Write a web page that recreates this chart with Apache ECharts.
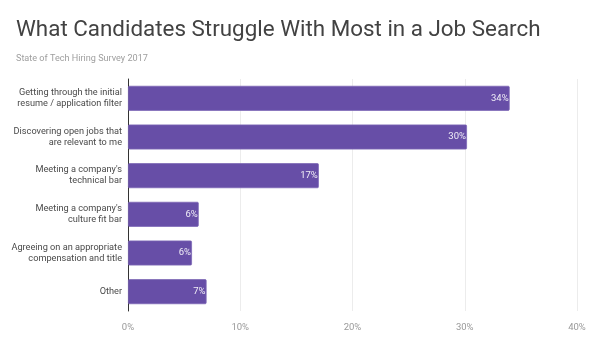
<!DOCTYPE html>
<html><head><meta charset="utf-8">
<script src="https://cdn.jsdelivr.net/npm/echarts@6/dist/echarts.min.js"></script>
<style>html,body{margin:0;padding:0;background:#fff}#c{width:596px;height:350px}</style>
</head><body><div id="c"></div>
<script>
const categories = [
  "Getting through the initial\nresume / application filter",
  "Discovering open jobs that\nare relevant to me",
  "Meeting a company's\ntechnical bar",
  "Meeting a company's\nculture fit bar",
  "Agreeing on an appropriate\ncompensation and title",
  "Other"
];
const values = [34, 30.2, 17, 6.3, 5.7, 7];
const valueLabels = ["34%", "30%", "17%", "6%", "6%", "7%"];
const xTicks = [0, 10, 20, 30, 40];

const chart = echarts.init(document.getElementById('c'));
chart.setOption({
  animation: false,
  textStyle: { fontFamily: 'Roboto' },
  title: {
    text: 'What Candidates Struggle With Most in a Job Search',
    subtext: 'State of Tech Hiring Survey 2017',
    left: 11, top: 14,
    itemGap: 13,
    textStyle: { fontFamily: 'Roboto', fontSize: 22.4, fontWeight: 'normal', color: '#424242' },
    subtextStyle: { fontFamily: 'Roboto', fontSize: 9.1, color: '#9e9e9e' }
  },
  grid: { left: 128, right: 19, top: 79, height: 232, containLabel: false },
  xAxis: {
    type: 'value', min: 0, max: 40, interval: 10,
    axisLine: { show: false }, axisTick: { show: false },
    splitLine: { lineStyle: { color: '#ececec', width: 1 } },
    axisLabel: { formatter: v => xTicks.includes(v) ? v + '%' : '', color: '#999', fontSize: 9.5, margin: 12 }
  },
  yAxis: {
    type: 'category', inverse: true, data: categories,
    axisLine: { show: true, lineStyle: { color: '#333', width: 1 } },
    axisTick: { show: false },
    axisLabel: { color: '#4a4a4a', fontSize: 9.2, lineHeight: 11, margin: 6, align: 'right' }
  },
  series: [{
    type: 'bar', data: values, barWidth: 25,
    itemStyle: { color: '#674ea7', borderColor: '#7e68b6', borderWidth: 0.8, borderRadius: 1 },
    label: {
      show: true, position: 'insideRight', distance: 1,
      color: 'rgba(255,255,255,0.9)', fontSize: 9.5,
      formatter: p => valueLabels[p.dataIndex]
    }
  }]
});
</script></body></html>
